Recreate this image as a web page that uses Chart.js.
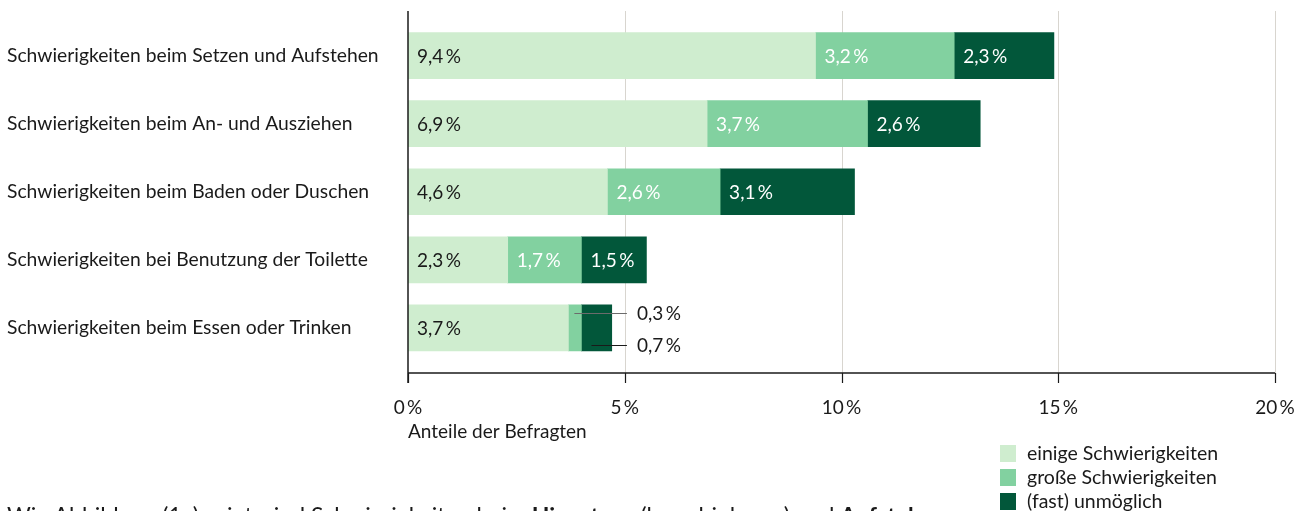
<!DOCTYPE html>
<html lang="de">
<head>
<meta charset="utf-8">
<title>Schwierigkeiten bei Alltagsaktivitäten</title>
<script src="https://cdn.jsdelivr.net/npm/chart.js@4/dist/chart.umd.min.js"></script>
<style>
  html, body { margin: 0; padding: 0; background: #fff; overflow: hidden; }
  body { width: 1309px; height: 511px; position: relative; font-family: Lato, sans-serif; color: #1a1a1a; }
  #wrap { position: absolute; left: 0; top: 0; width: 1309px; height: 511px; }
  #legend { position: absolute; left: 1000px; top: 441px; font-size: 19.5px; line-height: 24px; }
  #legend .item { display: flex; align-items: center; height: 24px; }
  #legend .sw { width: 16px; height: 17px; margin-right: 11px; }
  #note { position: absolute; left: 7px; top: 504px; font-size: 23px; line-height: 23px; white-space: nowrap; }
</style>
</head>
<body>
<div id="wrap"><canvas id="chart" width="1309" height="511"></canvas></div>
<div id="legend"></div>
<div id="note">Wie Abbildung (1a) zeigt, sind Schwierigkeiten beim <b>Hinsetzen</b> (bzw. hinlegen) und <b>Aufstehen</b></div>
<script>
// Kategorien (Aktivitäten)
const categories = [
  "Schwierigkeiten beim Setzen und Aufstehen",
  "Schwierigkeiten beim An- und Ausziehen",
  "Schwierigkeiten beim Baden oder Duschen",
  "Schwierigkeiten bei Benutzung der Toilette",
  "Schwierigkeiten beim Essen oder Trinken"
];
// Anteile der Befragten in Prozent
const einige = [9.4, 6.9, 4.6, 2.3, 3.7];
const grosse = [3.2, 3.7, 2.6, 1.7, 0.3];
const unmoeglich = [2.3, 2.6, 3.1, 1.5, 0.7];
const seriesNames = ["einige Schwierigkeiten", "große Schwierigkeiten", "(fast) unmöglich"];
const xTicks = [0, 5, 10, 15, 20];

const colors = ["#cfedcf", "#82d1a0", "#02573a"];
const labelColors = ["#1a1a1a", "#ffffff", "#ffffff"];
const FONT = 'Lato, sans-serif';
const fmt = v => v.toFixed(1).replace('.', ',') + '\u2009%';

// Vertikale Gitterlinien, Achsenlinien und Teilstriche
const axesPlugin = {
  id: 'axesLines',
  beforeDatasetsDraw(chart) {
    const { ctx, chartArea } = chart;
    const xs = chart.scales.x;
    const top = chartArea.top - 10.5, bottom = chartArea.bottom + 11;
    ctx.save();
    ctx.lineWidth = 1;
    ctx.strokeStyle = '#d8d5cf';
    xTicks.forEach(t => {
      if (t === 0) return;
      const x = Math.round(xs.getPixelForValue(t)) + 0.5;
      ctx.beginPath(); ctx.moveTo(x, top); ctx.lineTo(x, bottom); ctx.stroke();
    });
    ctx.restore();
  },
  afterDatasetsDraw(chart) {
    const { ctx, chartArea } = chart;
    const xs = chart.scales.x;
    const top = chartArea.top - 10.5, bottom = chartArea.bottom + 11;
    ctx.save();
    ctx.strokeStyle = '#1a1a1a';
    ctx.lineWidth = 1.5;
    // x-Achse
    ctx.beginPath(); ctx.moveTo(chartArea.left, bottom); ctx.lineTo(xs.getPixelForValue(20), bottom); ctx.stroke();
    // y-Achse
    ctx.beginPath(); ctx.moveTo(chartArea.left, top); ctx.lineTo(chartArea.left, bottom + 10); ctx.stroke();
    ctx.lineWidth = 1.2;
    xTicks.forEach(t => {
      const x = Math.round(xs.getPixelForValue(t)) + 0.5;
      ctx.beginPath(); ctx.moveTo(x, bottom); ctx.lineTo(x, bottom + 10); ctx.stroke();
    });
    ctx.restore();
  }
};

// Wertbeschriftungen in den Balken bzw. mit Hinweislinie daneben
const valueLabels = {
  id: 'valueLabels',
  afterDatasetsDraw(chart) {
    const { ctx } = chart;
    const xs = chart.scales.x;
    ctx.save();
    ctx.font = '19px ' + FONT;
    ctx.textBaseline = 'middle';
    ctx.textAlign = 'left';
    chart.data.datasets.forEach((ds, di) => {
      const meta = chart.getDatasetMeta(di);
      meta.data.forEach((bar, i) => {
        const v = ds.data[i];
        const start = Math.min(bar.base, bar.x);
        const width = Math.abs(bar.x - bar.base);
        if (width > 45) {
          ctx.fillStyle = labelColors[di];
          ctx.fillText(fmt(v), start + 9, bar.y + 1);
        } else {
          // schmale Segmente: Beschriftung außerhalb mit Linie
          const endX = xs.getPixelForValue(5.05);
          const dy = di === 1 ? -15 : 17;
          const ly = Math.round(bar.y + dy) + 0.5;
          const fromX = di === 1 ? start + 6 : start + width / 3;
          ctx.strokeStyle = di === 1 ? '#6b6b6b' : '#1a1a1a';
          ctx.lineWidth = 1.2;
          ctx.beginPath(); ctx.moveTo(fromX, ly); ctx.lineTo(endX, ly); ctx.stroke();
          ctx.fillStyle = '#1a1a1a';
          ctx.fillText(fmt(v), endX + 10, ly);
        }
      });
    });
    ctx.restore();
  }
};

const datasets = [einige, grosse, unmoeglich].map((d, i) => ({
  label: seriesNames[i],
  data: d,
  backgroundColor: colors[i],
  borderWidth: 0,
  barThickness: 46
}));

const chart = new Chart(document.getElementById('chart'), {
  type: 'bar',
  data: { labels: categories, datasets },
  options: {
    indexAxis: 'y',
    responsive: false,
    animation: false,
    layout: { padding: { left: 7, right: 34, top: 21.5, bottom: 69 } },
    plugins: { legend: { display: false }, tooltip: { enabled: false } },
    scales: {
      x: {
        stacked: true,
        min: 0, max: 20,
        afterBuildTicks: s => { s.ticks = xTicks.map(v => ({ value: v })); },
        grid: { display: false },
        border: { display: false },
        ticks: {
          padding: 26,
          color: '#1a1a1a',
          font: { family: FONT, size: 19 },
          maxRotation: 0,
          callback: v => v + '\u2009%'
        },
        title: {
          display: true, text: 'Anteile der Befragten', align: 'start',
          color: '#1a1a1a', font: { family: FONT, size: 19 }, padding: { top: 4, bottom: -1 }
        },
        afterFit: s => { s.height = 80; s.paddingLeft = 0; s.paddingRight = 0; }
      },
      y: {
        stacked: true,
        grid: { display: false },
        border: { display: false },
        ticks: {
          crossAlign: 'far',
          color: '#1a1a1a',
          font: { family: FONT, size: 19.3 }
        },
        afterFit: s => { s.width = 401; }
      }
    }
  },
  plugins: [axesPlugin, valueLabels]
});

// Legende aus den Datensätzen
const legend = document.getElementById('legend');
chart.data.datasets.forEach(ds => {
  const item = document.createElement('div');
  item.className = 'item';
  const sw = document.createElement('span');
  sw.className = 'sw';
  sw.style.background = ds.backgroundColor;
  const tx = document.createElement('span');
  tx.textContent = ds.label;
  item.appendChild(sw); item.appendChild(tx);
  legend.appendChild(item);
});
</script>
</body>
</html>
